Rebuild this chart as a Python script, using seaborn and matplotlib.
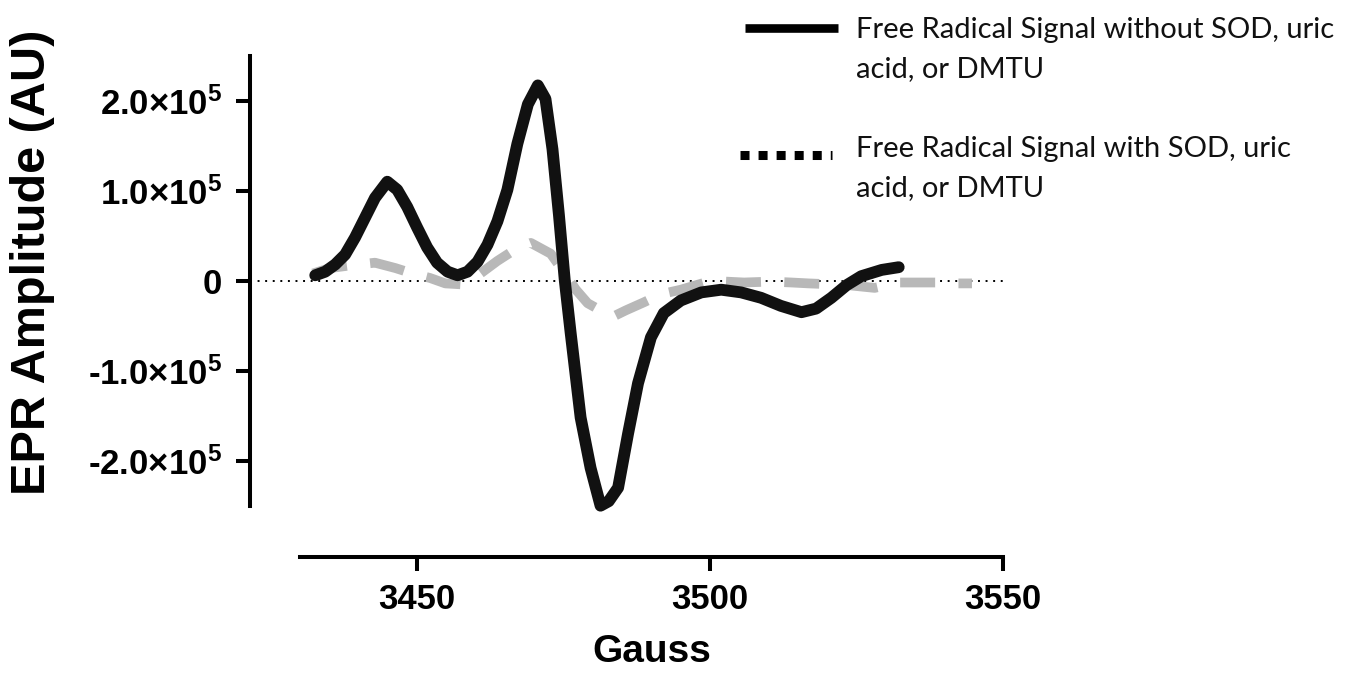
import numpy as np
import pandas as pd
import matplotlib
matplotlib.use("Agg")
import matplotlib.pyplot as plt
import seaborn as sns
from matplotlib.lines import Line2D

# ---- data (amplitude in units of 1e5 AU) ----
gauss_without = [3432.6, 3434.3, 3436.0, 3437.7, 3439.4, 3441.1, 3442.8, 3444.9, 3446.6, 3448.3,
                 3450.0, 3451.7, 3453.4, 3455.2, 3456.9, 3458.6, 3460.3, 3462.0, 3463.7, 3465.4,
                 3467.1, 3468.9, 3470.6, 3471.9, 3473.1, 3474.2, 3475.2, 3476.2, 3477.9, 3479.6,
                 3481.3, 3482.7, 3484.3, 3486.0, 3487.7, 3489.9, 3492.1, 3495.0, 3498.5, 3501.9,
                 3505.3, 3508.7, 3512.1, 3515.6, 3518.1, 3520.7, 3523.3, 3525.8, 3529.3, 3532.2]
amp_without = [0.06, 0.10, 0.18, 0.29, 0.48, 0.70, 0.92, 1.10, 1.01, 0.82,
               0.59, 0.37, 0.20, 0.10, 0.06, 0.10, 0.21, 0.40, 0.66, 1.01,
               1.52, 1.96, 2.17, 2.02, 1.46, 0.73, 0.00, -0.58, -1.52, -2.08,
               -2.50, -2.45, -2.30, -1.70, -1.14, -0.63, -0.36, -0.22, -0.13, -0.10,
               -0.13, -0.19, -0.28, -0.35, -0.31, -0.19, -0.05, 0.05, 0.12, 0.15]

gauss_with = [3432.2, 3435.1, 3438.6, 3442.8, 3446.3, 3449.2, 3452.2, 3454.8, 3457.4, 3460.8,
              3463.7, 3466.8, 3469.4, 3472.8, 3475.0, 3477.1, 3479.1, 3481.3, 3483.4, 3485.6,
              3488.7, 3491.6, 3495.0, 3499.7, 3502.7, 3505.8, 3510.4, 3513.9, 3516.8, 3520.7,
              3523.6, 3528.1, 3532.2, 3535.6, 3539.0, 3542.1, 3544.7]
amp_with = [0.08, 0.14, 0.17, 0.20, 0.14, 0.08, 0.03, -0.03, -0.04, 0.08,
            0.22, 0.35, 0.42, 0.30, 0.10, -0.10, -0.25, -0.33, -0.40, -0.33,
            -0.24, -0.15, -0.10, -0.01, -0.01, -0.02, -0.01, -0.02, -0.03, -0.04,
            -0.05, -0.08, -0.02, -0.02, -0.02, -0.03, -0.03]

x_ticks = [3450, 3500, 3550]
x_tick_labels = ["3450", "3500", "3550"]
y_ticks = [-2.0e5, -1.0e5, 0, 1.0e5, 2.0e5]
y_tick_labels = [r"-2.0×10$^{5}$", r"-1.0×10$^{5}$", "0", r"1.0×10$^{5}$", r"2.0×10$^{5}$"]
legend_labels = ["Free Radical Signal without SOD, uric\nacid, or DMTU",
                 "Free Radical Signal with SOD, uric\nacid, or DMTU"]
x_label = "Gauss"
y_label = "EPR Amplitude (AU)"

# ---- style ----
sns.set_style("ticks")
plt.rcParams["font.family"] = ["Liberation Sans", "DejaVu Sans"]
plt.rcParams["mathtext.fontset"] = "custom"
plt.rcParams["mathtext.rm"] = "Liberation Sans:bold"
plt.rcParams["mathtext.bf"] = "Liberation Sans:bold"
plt.rcParams["mathtext.default"] = "rm"

W, H = 1358, 673
fig = plt.figure(figsize=(W / 100, H / 100), dpi=100)
ax = fig.add_axes([300 / W, (H - 505.7) / H, 703 / W, 450 / H])

df_with = pd.DataFrame({"Gauss": gauss_with, "Amp": np.array(amp_with) * 1e5})
df_without = pd.DataFrame({"Gauss": gauss_without, "Amp": np.array(amp_without) * 1e5})

sns.lineplot(data=df_with, x="Gauss", y="Amp", ax=ax, color="#b8b8b8", lw=7,
             estimator=None, sort=False)
gl = ax.lines[-1]
gl.set_linestyle((0, (3.6, 2.4)))
gl.set_dash_capstyle("butt")
gl.set_clip_on(False)

sns.lineplot(data=df_without, x="Gauss", y="Amp", ax=ax, color="#111111", lw=8.5,
             estimator=None, sort=False)
bl = ax.lines[-1]
bl.set_solid_joinstyle("round")
bl.set_clip_on(False)

ax.axhline(0, xmin=-50 / 703, xmax=1, color="black", lw=1.4, ls=(0, (1, 2.9)),
           clip_on=False, zorder=1)

ax.set_xlim(3430, 3550)
ax.set_ylim(-2.5e5, 2.5e5)

sns.despine(ax=ax)
ax.spines["left"].set_position(("outward", 36))
ax.spines["bottom"].set_position(("outward", 36.7))
for s in ("left", "bottom"):
    ax.spines[s].set_linewidth(2.9)
    ax.spines[s].set_color("black")

ax.set_xticks(x_ticks)
ax.set_xticklabels(x_tick_labels)
ax.set_yticks(y_ticks)
ax.set_yticklabels(y_tick_labels)
ax.tick_params(axis="both", length=10, width=2.9, color="black", labelsize=25,
               labelcolor="black", direction="out")
ax.tick_params(axis="x", pad=9)
ax.tick_params(axis="y", pad=10)
for lbl in ax.get_xticklabels() + ax.get_yticklabels():
    lbl.set_fontweight("bold")

ax.set_xlabel(x_label, fontsize=28, fontweight="bold", color="black")
ax.set_ylabel(y_label, fontsize=35, fontweight="bold", color="black")
ax.xaxis.set_label_coords(0.5, -0.285)
ax.yaxis.set_label_coords(-0.3485, 0.54)

# ---- legend (handles aligned with first text line, as in the reference) ----
def fx(px):
    return px / W

def fy(py):
    return 1 - py / H

fig.add_artist(Line2D([fx(745), fx(838)], [fy(28), fy(28)], color="black", lw=6.2,
                      solid_capstyle="butt"))
fig.add_artist(Line2D([fx(740), fx(832)], [fy(155), fy(155)], color="black", lw=6.5,
                      ls=(0, (1, 1)), dash_capstyle="butt"))
leg_font = ["Lato", "DejaVu Sans"]
fig.text(fx(856), fy(17), legend_labels[0], family=leg_font, fontsize=21,
         va="top", ha="left", linespacing=1.62, color="#111111")
fig.text(fx(856), fy(136), legend_labels[1], family=leg_font, fontsize=21,
         va="top", ha="left", linespacing=1.62, color="#111111")

fig.savefig("out.png", dpi=100)
